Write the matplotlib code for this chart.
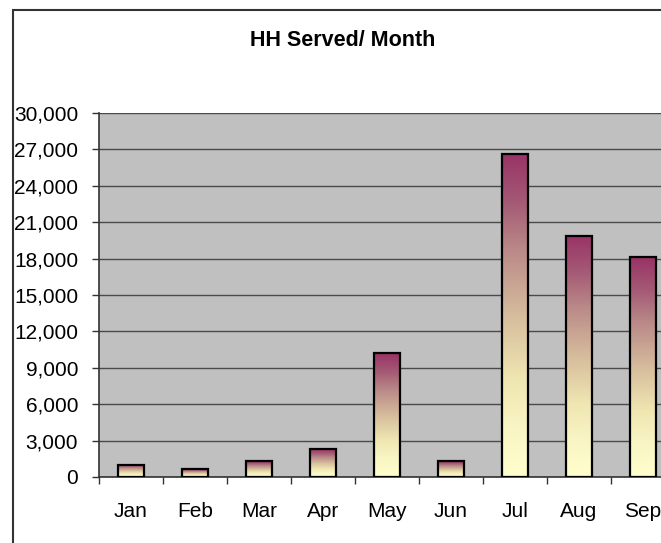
import matplotlib
matplotlib.use("Agg")
import matplotlib.pyplot as plt
import numpy as np
from matplotlib.colors import LinearSegmentedColormap
from matplotlib.patches import Rectangle

months = ["Jan", "Feb", "Mar", "Apr", "May", "Jun", "Jul", "Aug", "Sep"]
households = [1000, 650, 1300, 2300, 10200, 1300, 26650, 19900, 18100]
yticks = [0, 3000, 6000, 9000, 12000, 15000, 18000, 21000, 24000, 27000, 30000]
title = "HH Served/ Month"

plt.rcParams['font.family'] = ['Liberation Sans', 'DejaVu Sans']

W, H = 661, 543
fig = plt.figure(figsize=(W / 100, H / 100), dpi=100)
fig.patch.set_facecolor("white")

# outer chart border (extends past the cropped right/bottom edges)
fig.patches.append(Rectangle((13 / W, -0.1), 1.2, 1 - 10 / H + 0.1,
                             transform=fig.transFigure, fill=False,
                             edgecolor="#333333", linewidth=1.5))

left, right, top, bottom = 99, 675, 113, 477
ax = fig.add_axes([left / W, 1 - bottom / H, (right - left) / W, (bottom - top) / H])
ax.set_facecolor("#C0C0C0")

cmap = LinearSegmentedColormap.from_list(
    "g", [(0.0, "#FFFFCC"), (0.15, "#F9F5C4"), (0.3, "#EFE6B2"),
          (0.5, "#D6BC9C"), (0.7, "#BA8A88"), (0.85, "#A45A75"),
          (1.0, "#993366")])
grad = np.linspace(0, 1, 256).reshape(-1, 1)
bw = 0.4
x = np.arange(len(months))
for xi, v in zip(x, households):
    ax.imshow(grad, extent=(xi - bw / 2, xi + bw / 2, 0, v), aspect='auto',
              origin='lower', cmap=cmap, zorder=2, interpolation='bilinear')
ax.bar(x, households, width=bw, facecolor='none', edgecolor='black',
       linewidth=1.6, zorder=3)

ax.set_xlim(-0.5, len(months) - 0.5)
ax.set_ylim(0, 30000)
ax.set_yticks(yticks)
ax.set_yticklabels([f"{t:,}" for t in yticks])
ax.yaxis.grid(True, color="#4a4a4a", linewidth=1.0, zorder=1)
ax.set_axisbelow(True)

ax.set_xticks(x)
ax.set_xticklabels(months)
ax.set_xticks(np.arange(len(months) + 1) - 0.5, minor=True)
ax.tick_params(axis='x', which='major', length=0, pad=18, labelsize=15)
ax.tick_params(axis='x', which='minor', length=5, width=1, color='#333333', direction='out')
ax.tick_params(axis='y', length=5, width=1, color='#333333', direction='out', pad=10, labelsize=15)

for s in ['top', 'right']:
    ax.spines[s].set_visible(False)
for s in ['left', 'bottom']:
    ax.spines[s].set_color('#333333')
    ax.spines[s].set_linewidth(1.2)

fig.text(343 / W, 1 - 40 / H, title, ha='center', va='center',
         fontsize=15.5, fontweight='bold')

fig.savefig("out.png", dpi=100)
